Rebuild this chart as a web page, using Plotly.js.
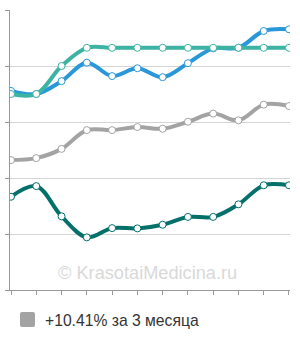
<!DOCTYPE html>
<html>
<head>
<meta charset="utf-8">
<script src="https://cdn.plot.ly/plotly-3.0.1.min.js"></script>
<style>html,body{margin:0;padding:0;background:#fff;}#chart{width:300px;height:340px;}</style>
</head>
<body>
<div id="chart"></div>
<script>
const months = [0,1,2,3,4,5,6,7,8,9,10,11];
const tealSeries = [70, 70, 80, 86.5, 86.5, 86.5, 86.5, 86.5, 86.5, 86.5, 86.5, 86.5];
const blueSeries = [71.1, 70, 74.6, 81.2, 76.4, 79.2, 76, 81, 86.3, 86.5, 92.5, 93.1];
const graySeries = [46.4, 47.1, 50.4, 57.1, 57.1, 58.2, 57.6, 60.1, 63, 60.6, 66.2, 65.7];
const darkSeries = [33.3, 37.1, 26.3, 18.8, 22.1, 22, 23.3, 26.1, 26.1, 30.6, 37.4, 37.4];
const legendLabel = "+10.41% за 3 месяца";
const watermark = "© KrasotaiMedicina.ru";

function tr(y, color) {
  return {
    x: months, y: y, type: 'scatter', mode: 'lines+markers',
    line: {color: color, width: 4, shape: 'spline', smoothing: 1},
    marker: {size: 7, color: '#ffffff', line: {color: color, width: 1}},
    hoverinfo: 'none', showlegend: false
  };
}
const data = [
  tr(graySeries, '#a3a3a3'),
  tr(darkSeries, '#04706a'),
  tr(blueSeries, '#2a98d8'),
  tr(tealSeries, '#3db3a4')
];
// legend square, rounded corners, in paper coords (plot area x: 10..290 px, y: 10..290 px)
function px(x) { return (x - 10) / 280; }
function py(y) { return (290 - y) / 280; }
const sq = {x0: 20, x1: 35, y0: 312, y1: 327, r: 2};
const sqPath = 'M ' + px(sq.x0 + sq.r) + ',' + py(sq.y0) +
  ' L ' + px(sq.x1 - sq.r) + ',' + py(sq.y0) +
  ' Q ' + px(sq.x1) + ',' + py(sq.y0) + ' ' + px(sq.x1) + ',' + py(sq.y0 + sq.r) +
  ' L ' + px(sq.x1) + ',' + py(sq.y1 - sq.r) +
  ' Q ' + px(sq.x1) + ',' + py(sq.y1) + ' ' + px(sq.x1 - sq.r) + ',' + py(sq.y1) +
  ' L ' + px(sq.x0 + sq.r) + ',' + py(sq.y1) +
  ' Q ' + px(sq.x0) + ',' + py(sq.y1) + ' ' + px(sq.x0) + ',' + py(sq.y1 - sq.r) +
  ' L ' + px(sq.x0) + ',' + py(sq.y0 + sq.r) +
  ' Q ' + px(sq.x0) + ',' + py(sq.y0) + ' ' + px(sq.x0 + sq.r) + ',' + py(sq.y0) + ' Z';
const layout = {
  width: 300, height: 340,
  margin: {l: 10, r: 10, t: 10, b: 50},
  paper_bgcolor: '#fff', plot_bgcolor: '#fff',
  showlegend: false,
  xaxis: {
    range: [-0.04, 11.04], tickvals: months, showticklabels: false,
    ticks: 'outside', ticklen: 4, tickcolor: '#999', showgrid: false,
    showline: true, linecolor: '#999', linewidth: 1, zeroline: false, fixedrange: true
  },
  yaxis: {
    range: [0, 100], tickvals: [0,20,40,60,80,100], showticklabels: false,
    ticks: 'outside', ticklen: 4, tickcolor: '#999',
    showgrid: true, gridcolor: '#d4d4d4', gridwidth: 1,
    showline: true, linecolor: '#999', linewidth: 1, zeroline: false, fixedrange: true
  },
  shapes: [
    {type: 'path', xref: 'paper', yref: 'paper', path: sqPath,
     fillcolor: '#a3a3a3', line: {width: 0}, layer: 'above'}
  ],
  annotations: [
    {text: watermark, xref: 'paper', yref: 'paper', x: px(147.5), y: py(272.5),
     xanchor: 'center', yanchor: 'middle', showarrow: false,
     font: {family: 'Liberation Sans, Arial, sans-serif', size: 18.2, color: '#d9d9d9'}},
    {text: legendLabel, xref: 'paper', yref: 'paper', x: px(43), y: py(320.5),
     xanchor: 'left', yanchor: 'middle', showarrow: false,
     font: {family: 'Liberation Sans, Arial, sans-serif', size: 15.7, color: '#333'}}
  ]
};
Plotly.newPlot('chart', data, layout, {displayModeBar: false, staticPlot: true});
</script>
</body>
</html>
